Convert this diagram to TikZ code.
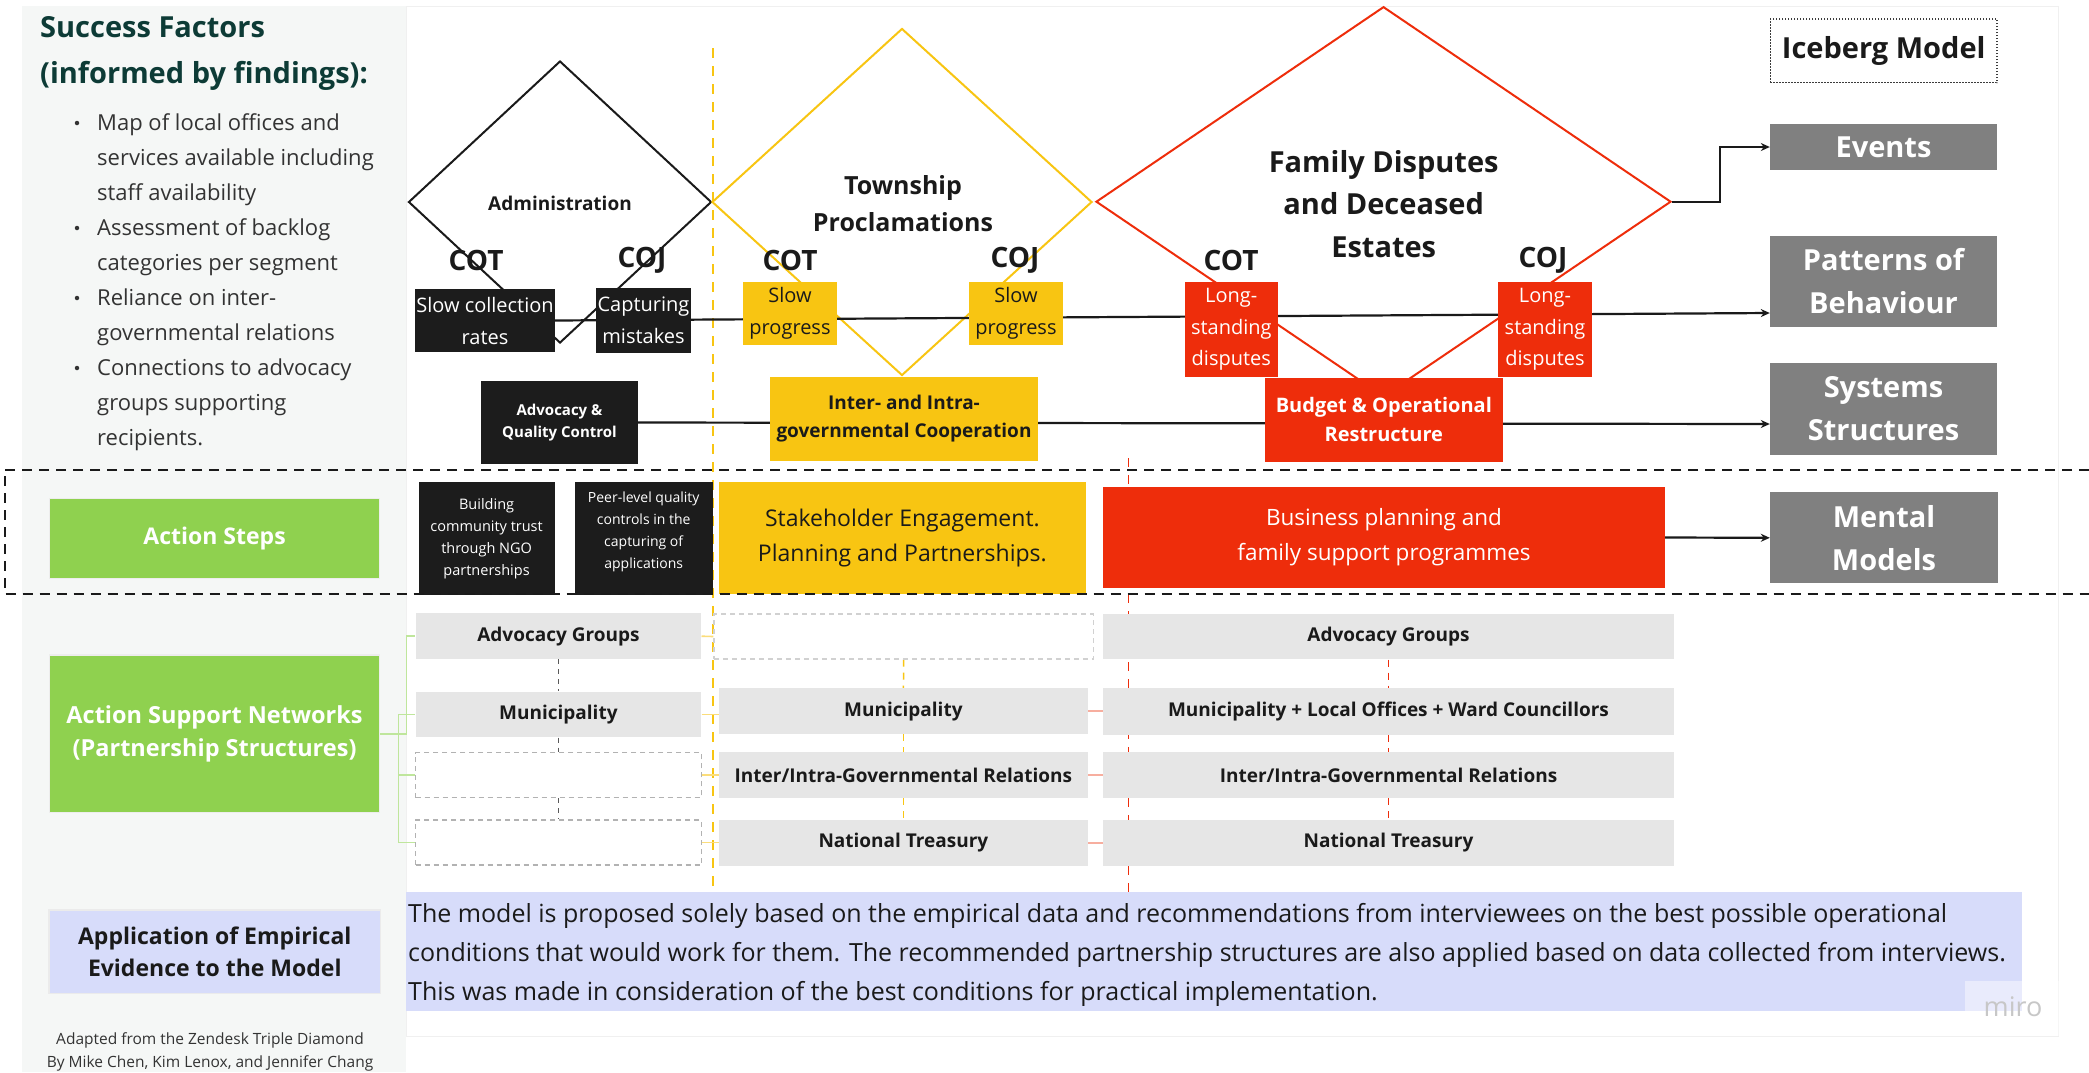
\documentclass[tikz,border=0pt]{standalone}
\usepackage{fontspec}
\setmainfont{Open Sans}
\usetikzlibrary{arrows.meta,shapes.geometric,calc}

\definecolor{panelbg}{HTML}{F5F7F6}
\definecolor{ink}{HTML}{1A1A1A}
\definecolor{bodytext}{HTML}{333333}
\definecolor{boxblack}{HTML}{1C1C1C}
\definecolor{myyellow}{HTML}{F8C512}
\definecolor{myred}{HTML}{EE2D0B}
\definecolor{mygreen}{HTML}{8FD14F}
\definecolor{mygray}{HTML}{808080}
\definecolor{rowgray}{HTML}{E6E6E6}
\definecolor{lavender}{HTML}{D7DCFA}
\definecolor{titleteal}{HTML}{0D3B36}
\definecolor{softgreen}{HTML}{BFE69C}
\definecolor{softyellow}{HTML}{FBDD7A}
\definecolor{softred}{HTML}{F7AE9F}

\newcommand{\setfs}[2]{\fontsize{#1}{#2}\selectfont}

\pgfdeclarelayer{back}
\pgfdeclarelayer{mid}
\pgfdeclarelayer{front}
\pgfsetlayers{back,mid,main,front}

\begin{document}
\begin{tikzpicture}[x=1pt,y=-1pt,
  plain/.style={rectangle,inner sep=0pt,align=center},
  blackbox/.style={plain,fill=boxblack,text=white},
  yelbox/.style={plain,fill=myyellow,text=ink},
  redbox/.style={plain,fill=myred,text=white},
  icebox/.style={plain,fill=mygray,text=white,minimum width=227,font=\setfs{29}{43}\bfseries},
  greenbox/.style={plain,fill=mygreen,draw=black!7,line width=1.5,text=white,minimum width=330},
  rowbox/.style={plain,fill=rowgray,text=ink,minimum height=45.7,font=\setfs{19}{24}\bfseries},
  ghostbox/.style={plain,draw=black!30,line width=1.2,dash pattern=on 5pt off 4pt,minimum height=45},
  tag/.style={plain,font=\setfs{28}{30}\bfseries,text=ink},
  diaedge/.style={diamond,inner sep=0pt,line width=2},
  flow/.style={draw=ink,line width=2.2,-{Stealth[length=9pt,width=8pt]}},
  treeline/.style={draw=softgreen,line width=1.6},
  bullettext/.style={anchor=base west,inner sep=0pt,align=left,font=\setfs{22}{35},text=bodytext},
  dot/.style={circle,fill=bodytext,inner sep=0pt,minimum size=4.5}
]
\useasboundingbox (0,0) rectangle (2089,1072);

% ---------- background ----------
\begin{pgfonlayer}{back}
\fill[white] (0,0) rectangle (2089,1072);
\fill[panelbg] (22,6) rectangle (406,1072);
\draw[black!6,line width=1] (406,6) rectangle (2058,1036);
\end{pgfonlayer}

% ---------- side panel: success factors ----------
\node[anchor=base west,inner sep=0pt,font=\setfs{29}{46}\bfseries,text=titleteal] (sftitle) at (40,37) {Success Factors};
\node[anchor=base west,inner sep=0pt,font=\setfs{29}{46}\bfseries,text=titleteal] (sfsub) at (40,83) {(informed by findings):};

% multi-line nodes are placed by the baseline of their last line
\node[dot] (d1) at (77,123) {};
\node[bullettext] (b1) at (97,200)
  {Map of local offices and\\services available including\\staff availability};
\node[dot] (d2) at (77,228) {};
\node[bullettext] (b2) at (97,270)
  {Assessment of backlog\\categories per segment};
\node[dot] (d3) at (77,298) {};
\node[bullettext] (b3) at (97,340)
  {Reliance on inter-\\governmental relations};
\node[dot] (d4) at (77,368) {};
\node[bullettext] (b4) at (97,445)
  {Connections to advocacy\\groups supporting\\recipients.};

% ---------- side panel: row headings ----------
\node[greenbox,minimum height=80,font=\setfs{23}{33}\bfseries] (actsteps) at (214.6,538.3) {Action Steps};
\node[greenbox,minimum height=157.3,font=\setfs{23.5}{33}\bfseries] (asn) at (214.6,733.7)
  {Action Support Networks\\(Partnership Structures)};
\node[plain,fill=lavender,draw=black!8,line width=1.5,minimum width=331.7,minimum height=83.3,
  text=ink,font=\setfs{23}{31.5}\bfseries] (apply) at (214.8,951.7)
  {Application of Empirical\\Evidence to the Model};
\node[plain,font=\setfs{15.5}{23},text=bodytext] (credit) at (210,1051.7)
  {Adapted from the Zendesk Triple Diamond\\By Mike Chen, Kim Lenox, and Jennifer Chang};

% ---------- three diamonds ----------
\begin{pgfonlayer}{mid}
\node[diaedge,draw=ink,minimum width=303,minimum height=282] (admin) at (560,202) {};
\node[diaedge,draw=myyellow,minimum width=380,minimum height=347] (township) at (902,202) {};
\node[diaedge,draw=myred,minimum width=575,minimum height=390] (family) at (1383.5,201.7) {};
\end{pgfonlayer}
\node[plain,font=\setfs{19}{24}\bfseries,text=ink] (admintxt) at (560,203) {Administration};
\node[plain,font=\setfs{25}{37}\bfseries,text=ink] (towntxt) at (903,203.5) {Township\\Proclamations};
\node[plain,font=\setfs{29}{42.5}\bfseries,text=ink] (famtxt) at (1383.7,204) {Family Disputes\\and Deceased\\Estates};

% ---------- patterns row ----------
\node[blackbox,minimum width=140,minimum height=63,font=\setfs{20}{32}] (slowcol) at (485,320.5) {Slow collection\\rates};
\node[blackbox,minimum width=95,minimum height=65,font=\setfs{20}{32}] (capt) at (643.5,320.5) {Capturing\\mistakes};
\node[yelbox,minimum width=94,minimum height=63,font=\setfs{20}{32}] (sp1) at (790,313.5) {Slow\\progress};
\node[yelbox,minimum width=93.5,minimum height=63,font=\setfs{20}{32}] (sp2) at (1016,313.5) {Slow\\progress};
\node[redbox,minimum width=92.6,minimum height=94.4,font=\setfs{20}{31.5}] (ls1) at (1231.3,329.5) {Long-\\standing\\disputes};
\node[redbox,minimum width=93.3,minimum height=94.4,font=\setfs{20}{31.5}] (ls2) at (1545,329.5) {Long-\\standing\\disputes};

\node[tag] (cot1) at (476,260) {COT};
\node[tag] (coj1) at (642,260) {COJ};
\node[tag] (cot2) at (790,260) {COT};
\node[tag] (coj2) at (1015,260) {COJ};
\node[tag] (cot3) at (1231,260) {COT};
\node[tag] (coj3) at (1543,260) {COJ};

% ---------- structures row ----------
\node[blackbox,minimum width=156.5,minimum height=83,font=\setfs{15}{22}\bfseries] (advqc) at (559.5,422.5) {Advocacy \&\\Quality Control};
\node[yelbox,minimum width=268.6,minimum height=84,font=\setfs{19}{28}\bfseries] (coop) at (904,419) {Inter- and Intra-\\governmental Cooperation};
\node[redbox,minimum width=238,minimum height=84,font=\setfs{20}{29}\bfseries] (budget) at (1383.8,419.7) {Budget \& Operational\\Restructure};

% ---------- iceberg model ----------
\node[plain,draw=ink!85,line width=1.5,dash pattern=on 1.5pt off 1.5pt,minimum width=226.5,minimum height=63.7,
  font=\setfs{29}{36}\bfseries,text=ink] (iceberg) at (1883.7,50.8) {Iceberg Model};
\node[icebox,minimum height=45.7] (events) at (1883.5,147) {Events};
\node[icebox,minimum height=91.6] (patterns) at (1883.5,281.5) {Patterns of\\Behaviour};
\node[icebox,minimum height=91.7] (systems) at (1883.5,409) {Systems\\Structures};
\node[icebox,minimum height=91,minimum width=228] (mental) at (1884,537.8) {Mental\\Models};

% ---------- action steps ----------
\node[blackbox,minimum width=136,minimum height=113.3,font=\setfs{14.5}{22}] (build) at (486.6,538.3)
  {Building\\community trust\\through NGO\\partnerships};
\node[blackbox,minimum width=137.8,minimum height=113.3] (peer) at (643.7,538.3) {};
\node[plain,text=white,font=\setfs{14}{22}] (peertxt) at (643.7,532) {Peer-level quality\\controls in the\\capturing of\\applications};
\node[yelbox,minimum width=366.8,minimum height=112,font=\setfs{23}{35}] (stake) at (902.4,538.3)
  {Stakeholder Engagement.\\Planning and Partnerships.};
\node[redbox,minimum width=562,minimum height=101.6,font=\setfs{22.5}{35}] (biz) at (1384,537.5)
  {Business planning and\\family support programmes};

% ---------- partnership structures ----------
\node[rowbox,minimum width=285.8] (advL) at (558.4,636.2) {Advocacy Groups};
\node[rowbox,minimum width=285.8] (munL) at (558.4,714.5) {Municipality};
\node[ghostbox,minimum width=285.8] (ghostL1) at (558.4,775.1) {};
\node[ghostbox,minimum width=285.8] (ghostL2) at (558.4,842.5) {};

\node[ghostbox,draw=black!18,minimum width=379.5] (ghostY) at (903.7,636.5) {};
\node[rowbox,minimum width=368.8] (munY) at (903.4,711.2) {Municipality};
\node[rowbox,minimum width=368.8] (intY) at (903.4,775.2) {Inter/Intra-Governmental Relations};
\node[rowbox,minimum width=368.8] (natY) at (903.4,842.8) {National Treasury};

\node[rowbox,minimum width=571] (advR) at (1388.5,636.5) {Advocacy Groups};
\node[rowbox,minimum width=571,minimum height=46.7] (munR) at (1388.5,711.7) {Municipality + Local Offices + Ward Councillors};
\node[rowbox,minimum width=571] (intR) at (1388.5,775.3) {Inter/Intra-Governmental Relations};
\node[rowbox,minimum width=571] (natR) at (1388.5,842.8) {National Treasury};

% ---------- closing statement ----------
\node[plain,fill=lavender,minimum width=1615.4,minimum height=118.2] (parabox) at (1214,951.4) {};
\node[anchor=base west,inner sep=0pt,align=left,font=\setfs{25}{39},text=ink] (paratext) at (408,1000)
  {The model is proposed solely based on the empirical data and recommendations from interviewees on the best possible operational\\
   conditions that would work for them. The recommended partnership structures are also applied based on data collected from interviews.\\
   This was made in consideration of the best conditions for practical implementation.};
\node[plain,fill=white,fill opacity=0.45,minimum width=97,minimum height=55] (wmbox) at (2013.5,1008.5) {};
\node[plain,font=\setfs{27}{30},text=black!22] (wm) at (2013,1007) {miro};

% ---------- column guides and connectors ----------
\begin{pgfonlayer}{mid}
\coordinate (ytop) at (712.5,48);
\coordinate (ybot) at (712.5,892);
\coordinate (rtop) at (1128.5,458);
\coordinate (rbot) at (1128.5,892);
\draw[myyellow,line width=2,dash pattern=on 10pt off 8pt] (ytop) -- (ybot);
\draw[myred,line width=1.6,dash pattern=on 9pt off 8pt] (rtop) -- (rbot);

% iceberg levels
\draw[flow] (slowcol.east) -- ($(patterns.west)+(0,31.5)$);
\draw[flow] (advqc.east) -- ($(systems.west)+(0,15)$);
\draw[flow] (family.east) -- ++(48,0) |- (events.west);
\draw[flow] (biz.east) -- (mental.west);

% partnership tree
\draw[treeline] (asn.east) -- ++(26,0) |- (advL.west);
\draw[treeline] (asn.east) -- ++(18,0) |- (munL.west);
\draw[treeline] (asn.east) -- ++(18,0) |- (ghostL1.west);
\draw[treeline] (asn.east) -- ++(18,0) |- (ghostL2.west);

% links inside each column
\draw[black!65,line width=1.3,dash pattern=on 5pt off 5pt] (advL.south) -- (munL.north);
\draw[black!65,line width=1.3,dash pattern=on 5pt off 5pt] (munL.south) -- (ghostL1.north);
\draw[black!65,line width=1.3,dash pattern=on 5pt off 5pt] (ghostL1.south) -- (ghostL2.north);
\draw[myyellow,line width=1.5,dash pattern=on 7pt off 6pt] (ghostY.south) -- (munY.north);
\draw[myyellow,line width=1.5,dash pattern=on 7pt off 6pt] (munY.south) -- (intY.north);
\draw[myyellow,line width=1.5,dash pattern=on 7pt off 6pt] (intY.south) -- (natY.north);
\draw[myred,line width=1.5,dash pattern=on 7pt off 6pt] (advR.south) -- (munR.north);
\draw[myred,line width=1.5,dash pattern=on 7pt off 6pt] (munR.south) -- (intR.north);
\draw[myred,line width=1.5,dash pattern=on 7pt off 6pt] (intR.south) -- (natR.north);

% links between columns
\draw[softyellow,line width=1.6] (advL.east) -- (ghostY.west);
\draw[softyellow,line width=1.6] (munL.east) -- (munL.east -| munY.west);
\draw[softyellow,line width=1.6] (ghostL1.east) -- (ghostL1.east -| intY.west);
\draw[softyellow,line width=1.6] (ghostL2.east) -- (ghostL2.east -| natY.west);
\draw[softred,line width=1.6] (munY.east) -- (munY.east -| munR.west);
\draw[softred,line width=1.6] (intY.east) -- (intY.east -| intR.west);
\draw[softred,line width=1.6] (natY.east) -- (natY.east -| natR.west);
\end{pgfonlayer}

% ---------- action steps band ----------
\begin{pgfonlayer}{front}
\coordinate (bandtr) at (2089,469.5);
\coordinate (bandtl) at (4.5,469.5);
\coordinate (bandbl) at (4.5,594);
\coordinate (bandbr) at (2089,594);
\draw[ink,line width=2,dash pattern=on 10pt off 7pt] (bandtr) -- (bandtl) -- (bandbl) -- (bandbr);
\end{pgfonlayer}
\end{tikzpicture}
\end{document}
